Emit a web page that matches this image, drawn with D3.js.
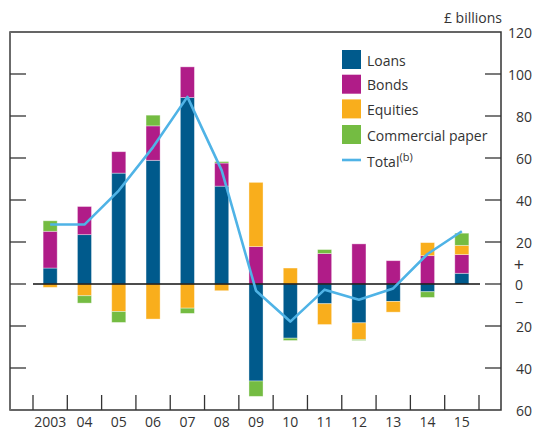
<!DOCTYPE html>
<html>
<head>
<meta charset="utf-8">
<script src="https://cdn.jsdelivr.net/npm/d3@7"></script>
<style>
  body { margin: 0; background: #fff; }
  svg { display: block; }
  svg text { font-family: "Open Sans", "Noto Sans", sans-serif; fill: #333; }
</style>
</head>
<body>
<figure style="margin:0"></figure>
<script>
const years = ["2003","04","05","06","07","08","09","10","11","12","13","14","15"]
const loans = [7.6, 23.5, 52.8, 58.9, 88.8, 46.6, -46.2, -25.8, -9.4, -18.5, -8.3, -3.7, 5.1]
const bonds = [17.5, 13.4, 10.2, 16.4, 14.6, 11.0, 17.8, 0, 14.5, 19.1, 11.1, 13.5, 8.9]
const equities = [-1.6, -5.6, -13.1, -16.7, -11.5, -3.2, 30.6, 7.6, -9.9, -7.9, -5.1, 6.2, 4.4]
const commercialPaper = [5.0, -3.5, -5.2, 5.1, -2.5, 0.7, -7.3, -1.1, 1.9, -0.5, 0, -2.7, 5.8]
const total = [28.3, 28.3, 44.5, 65.2, 89.1, 54.1, -3.2, -17.9, -2.7, -7.5, -2.1, 14.3, 25.1]
const rightTicks = [120, 100, 80, 60, 40, 20, 0, -20, -40, -60]

const series = [
    {key: "loans", name: "Loans", color: "#005a8c", values: loans},
    {key: "bonds", name: "Bonds", color: "#b01c88", values: bonds},
    {key: "equities", name: "Equities", color: "#f9ae1c", values: equities},
    {key: "cp", name: "Commercial paper", color: "#74bc42", values: commercialPaper}
]

const svg = d3.select("figure").append("svg").attr("width", 535).attr("height", 430),
    frame = {left: 10, right: 501, top: 32, bottom: 410},
    fs = "14px",
    x = d3.scaleBand().domain(years).range([33, 479]).paddingInner(0.59).paddingOuter(0.295),
    y = d3.scaleLinear().domain([-60, 120]).range([frame.bottom, frame.top])

// rows for the stack
const rows = years.map((yr, i) => {
    const r = {year: yr}
    series.forEach(s => r[s.key] = s.values[i])
    return r
})
const stacked = d3.stack().keys(series.map(s => s.key)).offset(d3.stackOffsetDiverging)(rows)

const bars = svg.append("g")
stacked.forEach((layer, li) => {
    bars.append("g").attr("fill", series[li].color)
        .selectAll("rect")
        .data(layer.filter(d => d[1] !== d[0]))
        .enter().append("rect")
            .attr("x", d => x(d.data.year))
            .attr("width", x.bandwidth())
            .attr("y", d => y(Math.max(d[0], d[1])))
            .attr("height", d => Math.abs(y(d[0]) - y(d[1])))
            .attr("stroke", "#fff").attr("stroke-opacity", 0.45).attr("stroke-width", 0.8)
})

// zero line
svg.append("line").attr("x1", 33).attr("x2", 480).attr("y1", y(0)).attr("y2", y(0))
    .attr("stroke", "#111").attr("stroke-width", 1.3)

// total line
svg.append("path")
    .datum(total)
    .attr("fill", "none").attr("stroke", "#4fb3e6").attr("stroke-width", 2.6)
    .attr("stroke-linejoin", "round")
    .attr("d", d3.line().x((d, i) => x(years[i]) + x.bandwidth() / 2).y(d => y(d)))

// frame
svg.append("path")
    .attr("d", `M${frame.left},${frame.top}H${frame.right}V${frame.bottom}H${frame.left}`)
    .attr("fill", "none").attr("stroke", "#333").attr("stroke-width", 1.5)
svg.append("line").attr("x1", frame.left).attr("x2", frame.left)
    .attr("y1", frame.top - 0.7).attr("y2", frame.bottom + 0.7)
    .attr("stroke", "#6b6b6b").attr("stroke-width", 2)

// y ticks (inside, both sides)
const inner = rightTicks.filter(v => v > -60 && v < 120)
svg.append("g").selectAll("line").data(inner).enter().append("line")
    .attr("x1", frame.left).attr("x2", frame.left + 16).attr("y1", d => y(d)).attr("y2", d => y(d))
    .attr("stroke", "#333").attr("stroke-width", 1.3)
svg.append("g").selectAll("line").data(inner).enter().append("line")
    .attr("x1", frame.right - 16).attr("x2", frame.right).attr("y1", d => y(d)).attr("y2", d => y(d))
    .attr("stroke", "#333").attr("stroke-width", 1.3)

// right labels
svg.append("g").selectAll("text").data(rightTicks).enter().append("text")
    .text(d => Math.abs(d))
    .attr("x", d => d === 0 ? 519 : 532)
    .attr("y", d => y(d))
    .attr("text-anchor", d => d === 0 ? "middle" : "end")
    .attr("dominant-baseline", "central")
    .style("font-size", fs)
svg.append("text").text("+").attr("x", 519).attr("y", y(0) - 20)
    .attr("text-anchor", "middle").attr("dominant-baseline", "central").style("font-size", "18px")
svg.append("text").text("\u2212").attr("x", 519).attr("y", y(0) + 18)
    .attr("text-anchor", "middle").attr("dominant-baseline", "central").style("font-size", "15px")

svg.append("text").text("£ billions").attr("x", 502).attr("y", 17)
    .attr("text-anchor", "end").attr("dominant-baseline", "central").style("font-size", fs)

// x ticks at category boundaries
const step = x.step(), x0 = x.range()[0]
svg.append("g").selectAll("line").data(d3.range(years.length + 1)).enter().append("line")
    .attr("x1", i => x0 + i * step).attr("x2", i => x0 + i * step)
    .attr("y1", frame.bottom).attr("y2", frame.bottom - 15)
    .attr("stroke", "#333").attr("stroke-width", 1.3)
svg.append("g").selectAll("text").data(years).enter().append("text")
    .text(d => d)
    .attr("x", d => x(d) + x.bandwidth() / 2)
    .attr("y", 421.5)
    .attr("text-anchor", "middle").attr("dominant-baseline", "central")
    .style("font-size", fs)

// legend
const legend = svg.append("g").attr("transform", "translate(342,50)")
series.forEach((s, i) => {
    const yy = i === 3 ? 75 : i * 24.7
    legend.append("rect").attr("x", 0).attr("y", yy).attr("width", 19).attr("height", 19).attr("fill", s.color)
    legend.append("text").text(s.name).attr("x", 25).attr("y", yy + 10)
        .attr("dominant-baseline", "central").style("font-size", fs)
})
legend.append("line").attr("x1", 0).attr("x2", 19).attr("y1", 110).attr("y2", 110)
    .attr("stroke", "#4fb3e6").attr("stroke-width", 2.6)
const tl = legend.append("text").attr("x", 25).attr("y", 111)
    .attr("dominant-baseline", "central").style("font-size", fs)
tl.append("tspan").text("Total")
tl.append("tspan").text("(b)").attr("dy", -5).style("font-size", "11px")
</script>
</body>
</html>
